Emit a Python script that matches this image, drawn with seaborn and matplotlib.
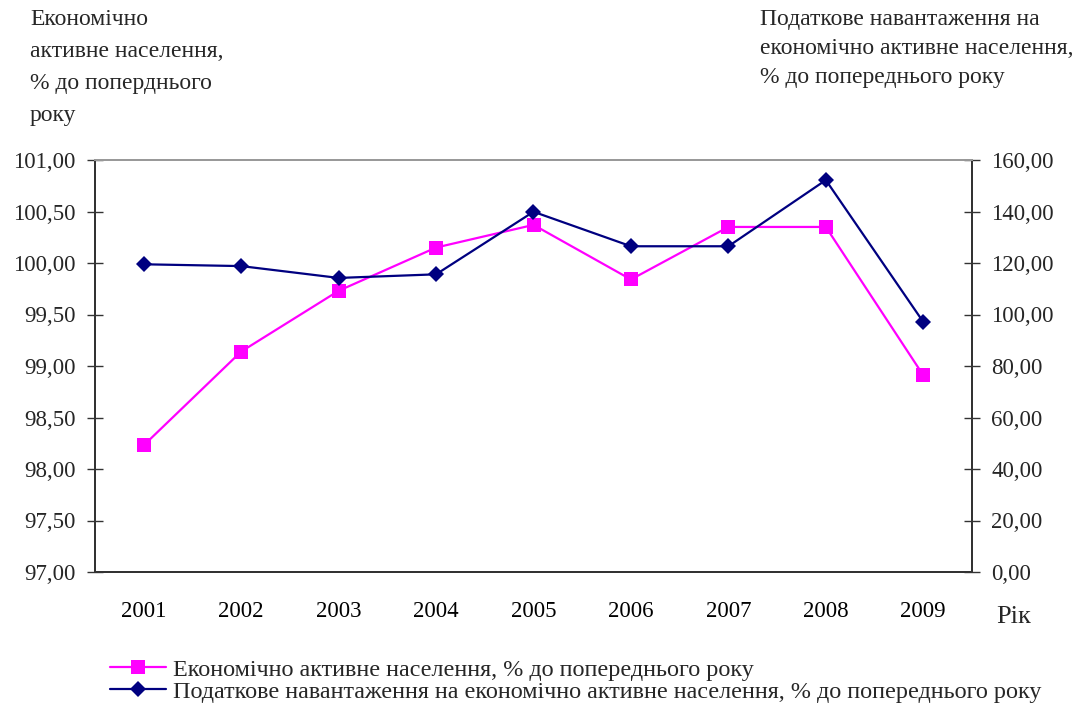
import matplotlib
matplotlib.use("Agg")
import matplotlib.pyplot as plt
import seaborn as sns
import pandas as pd
from matplotlib.ticker import FixedLocator, FuncFormatter

sns.set_theme(style="white")
plt.rcParams["font.family"] = ["Liberation Serif", "DejaVu Serif"]

years = ["2001", "2002", "2003", "2004", "2005", "2006", "2007", "2008", "2009"]
active_pop = [98.23, 99.14, 99.73, 100.15, 100.37, 99.84, 100.35, 100.35, 98.91]
tax_burden = [119.5, 118.8, 114.2, 115.6, 139.9, 126.5, 126.5, 152.2, 97.1]

name_active = "Економічно активне населення, % до попереднього року"
name_tax = "Податкове навантаження на економічно активне населення, % до попереднього року"

df = pd.DataFrame({"year": years, "active": active_pop, "tax": tax_burden})
df["pos"] = range(len(years))

fig = plt.figure(figsize=(10.88, 7.07), dpi=100)
ax = fig.add_axes([95 / 1088, 1 - 572 / 707, (972 - 95) / 1088, (572 - 160) / 707])
ax2 = ax.twinx()

sns.lineplot(data=df, x="pos", y="active", ax=ax, color="#FF00FF", marker="s",
             markersize=9.5, markeredgewidth=0, linewidth=1.6, label=name_active,
             legend=False)
sns.lineplot(data=df, x="pos", y="tax", ax=ax2, color="#000080", marker="D",
             markersize=8.5, markeredgewidth=0, linewidth=1.6, label=name_tax,
             legend=False)

fmt = FuncFormatter(lambda v, p: f"{v:.2f}".replace(".", ","))

ax.set_xlim(-0.5, len(years) - 0.5)
ax.set_ylim(97, 101)
ax2.set_ylim(0, 160)
ax.set_yticks([97 + 0.5 * i for i in range(9)])
ax2.set_yticks([20 * i for i in range(9)])
ax.yaxis.set_major_formatter(fmt)
ax2.yaxis.set_major_formatter(fmt)

# category labels centred, tick marks on the boundaries between categories
ax.set_xticks(range(len(years)))
ax.set_xticklabels(years)
ax.xaxis.set_minor_locator(FixedLocator([i - 0.5 for i in range(len(years) + 1)]))
ax.tick_params(axis="x", which="major", length=0, pad=21, labelsize=16.5, colors="black")
ax.tick_params(axis="x", which="minor", length=14, width=1.0, direction="inout",
               color="#333333")
ax.tick_params(axis="y", length=12, width=1.0, direction="inout", color="#333333",
               labelsize=16.5, pad=8, left=True)
ax2.tick_params(axis="y", length=12, width=1.0, direction="inout", color="#333333",
                labelsize=16.5, pad=8, right=True)
ax.set_xlabel("")
ax.set_ylabel("")
ax2.set_ylabel("")

for a in (ax, ax2):
    for side in ("left", "right", "bottom"):
        a.spines[side].set_color("#333333")
        a.spines[side].set_linewidth(1.4)
    a.spines["top"].set_color("#999999")
    a.spines["top"].set_linewidth(1.4)
    a.grid(False)

fig.text(30 / 1088, 1 - 9 / 707,
         "Економічно\nактивне населення,\n% до поперднього\nроку",
         ha="left", va="top", fontsize=17, linespacing=1.68)
fig.text(760 / 1088, 1 - 9 / 707,
         "Податкове навантаження на\nекономічно активне населення,\n% до попереднього року",
         ha="left", va="top", fontsize=17, linespacing=1.5)
fig.text(996 / 1088, 1 - 617 / 707, "Рік", ha="left", va="center", fontsize=19)

h1, l1 = ax.get_legend_handles_labels()
h2, l2 = ax2.get_legend_handles_labels()
fig.legend(h1 + h2, l1 + l2, loc="upper left", bbox_to_anchor=(110 / 1088, 1 - 659 / 707),
           frameon=False, fontsize=17.4, handlelength=2.3, handletextpad=0.3,
           labelspacing=0.0, borderaxespad=0, borderpad=0)

fig.savefig("out.png", dpi=100, facecolor="white")
